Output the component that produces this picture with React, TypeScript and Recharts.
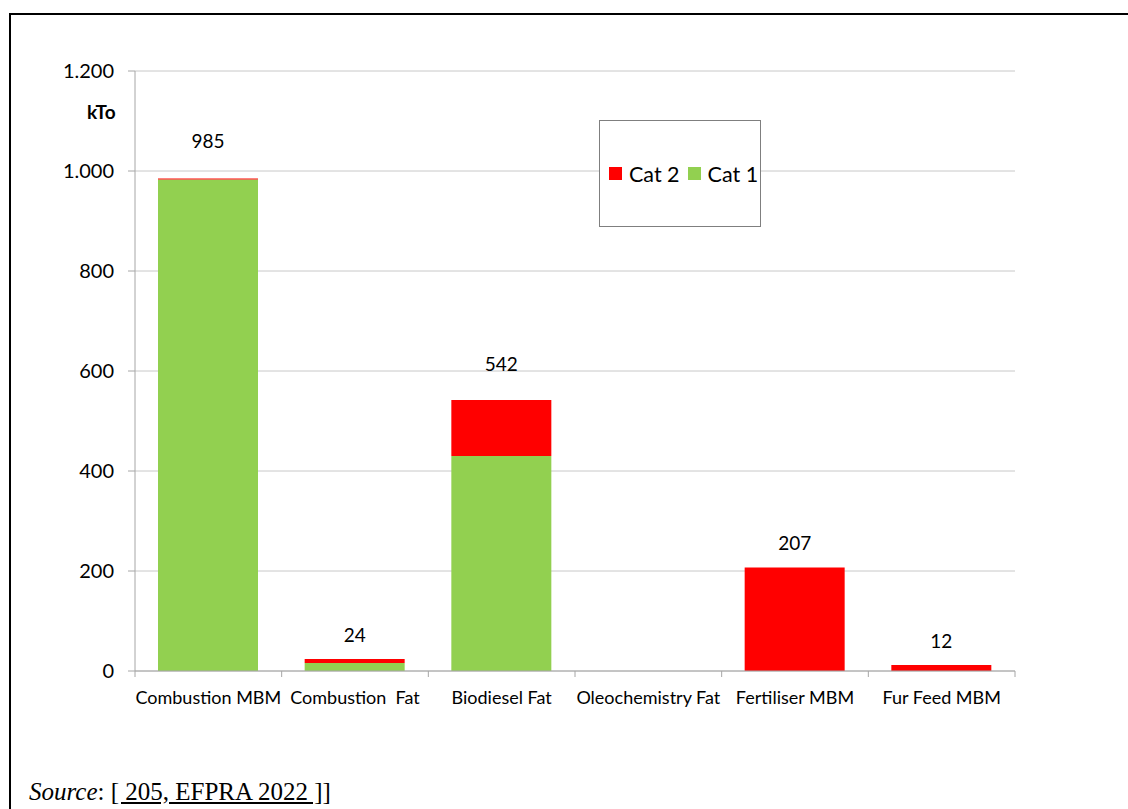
import React from 'react';
import { BarChart, Bar, XAxis, YAxis, CartesianGrid, LabelList } from 'recharts';

const categories = ['Combustion MBM', 'Combustion  Fat', 'Biodiesel Fat', 'Oleochemistry Fat', 'Fertiliser MBM', 'Fur Feed MBM'];
const cat1Values = [983, 16, 430, 0, 0, 0];
const cat2Values = [2, 8, 112, 0, 207, 12];
const totalLabels = [985, 24, 542, 0, 207, 12];
const yTicks = [0, 200, 400, 600, 800, 1000, 1200];

const labelLift = [38, 25, 37, 0, 25, 25];

const data = categories.map((c, i) => ({ name: c, cat1: cat1Values[i], cat2: cat2Values[i], total: totalLabels[i] }));

const FONT = 'Lato, "Open Sans", sans-serif';
const GREEN = '#92D050';
const RED = '#FF0000';
const AXIS = '#a6a6a6';
const GRID = '#c8c8c8';
const STEP = 880 / 6;

const fmt = (v: number) => {
  if (v >= 1000) {
    const s = String(v);
    return s.slice(0, s.length - 3) + '.' + s.slice(s.length - 3);
  }
  return String(v);
};

const XTick = (props: any) => {
  const { x, y, payload, index } = props;
  return (
    <g>
      <line x1={x - STEP / 2} x2={x - STEP / 2} y1={y} y2={y + 6} stroke={AXIS} />
      {index === categories.length - 1 && <line x1={x + STEP / 2} x2={x + STEP / 2} y1={y} y2={y + 6} stroke={AXIS} />}
      <text x={x} y={y + 26} textAnchor="middle" dominantBaseline="central" fontFamily={FONT} fontSize={18} fill="#000" style={{ whiteSpace: 'pre' }}>
        {payload.value}
      </text>
    </g>
  );
};

const TotalLabel = (props: any) => {
  const { x, y, width, value } = props;
  const t = Number(value);
  if (!t) return null;
  const i = totalLabels.indexOf(t);
  return (
    <text x={Number(x) + Number(width) / 2} y={Number(y) - labelLift[i]} textAnchor="middle" dominantBaseline="central" fontFamily={FONT} fontSize={19} fill="#000">
      {t}
    </text>
  );
};

export default function App() {
  return (
    <div style={{ position: 'absolute', left: 0, top: 0, width: 1128, height: 809, overflow: 'hidden', background: '#fff' }}>
      <div style={{ position: 'absolute', left: 9, top: 13, width: 1200, height: 900, borderLeft: '2px solid #000', borderTop: '2px solid #000' }} />
      <div style={{ position: 'absolute', left: 0, top: 0 }}>
        <BarChart width={1128} height={809} data={data} margin={{ top: 71, right: 113, bottom: 98, left: 75 }} barSize={100}>
          <CartesianGrid vertical={false} stroke={GRID} />
          <XAxis dataKey="name" axisLine={{ stroke: AXIS }} tickLine={false} tickSize={0} tickMargin={0} height={40} tick={<XTick />} interval={0} />
          <YAxis domain={[0, 1200]} ticks={yTicks} interval={0} width={60} axisLine={{ stroke: AXIS }} tickLine={{ stroke: AXIS }} tickSize={7} tickMargin={14} tickFormatter={fmt} tick={{ fontFamily: FONT, fontSize: 20, fill: '#000' }} />
          <Bar dataKey="cat1" name="Cat 1" stackId="a" fill={GREEN} isAnimationActive={false} />
          <Bar dataKey="cat2" name="Cat 2" stackId="a" fill={RED} isAnimationActive={false}>
            <LabelList dataKey="total" content={<TotalLabel />} />
          </Bar>
        </BarChart>
      </div>
      <div style={{ position: 'absolute', left: 599, top: 120, width: 160, height: 105, border: '1px solid #7f7f7f', background: '#fff', display: 'flex', alignItems: 'center', paddingLeft: 0, fontFamily: FONT, fontSize: 21.5, color: '#000' }}>
        <span style={{ display: 'inline-block', width: 13, height: 13, background: RED, marginLeft: 9, marginRight: 7 }} />
        <span style={{ marginRight: 8 }}>Cat 2</span>
        <span style={{ display: 'inline-block', width: 13, height: 13, background: GREEN, marginRight: 7 }} />
        <span>Cat 1</span>
      </div>
      <div style={{ position: 'absolute', left: 87, top: 100, fontFamily: FONT, fontSize: 19, fontWeight: 'bold', color: '#000' }}>kTo</div>
      <div style={{ position: 'absolute', left: 29, top: 779, lineHeight: '25px', fontFamily: '"Liberation Serif", "Times New Roman", serif', fontSize: 25, color: '#000', whiteSpace: 'pre' }}>
        <i>Source</i>: <u>[ 205, EFPRA 2022 ]</u>]
      </div>
    </div>
  );
}
